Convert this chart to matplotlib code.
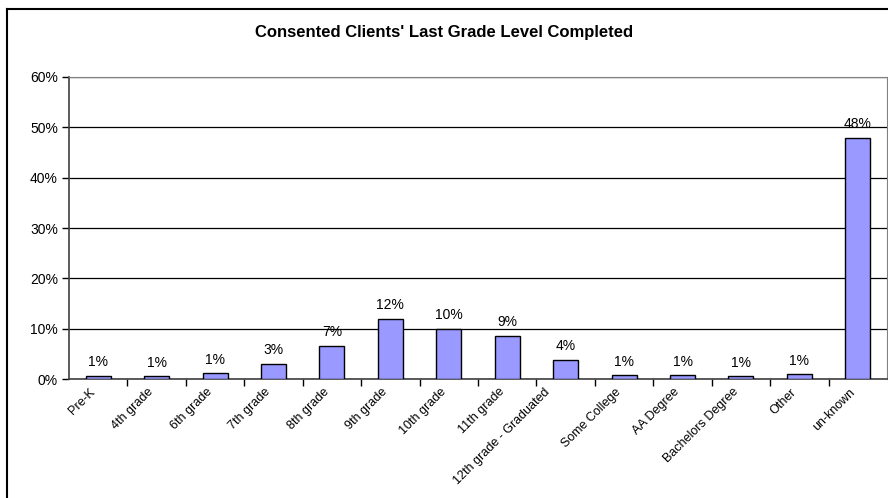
import numpy as np
import matplotlib.pyplot as plt
import matplotlib.transforms as mtransforms
from matplotlib.lines import Line2D
from matplotlib.ticker import FuncFormatter

plt.rcParams['font.family'] = ['Liberation Sans', 'DejaVu Sans']

# Last grade level completed, percent of consented clients
grades = ['Pre-K', '4th grade', '6th grade', '7th grade', '8th grade', '9th grade',
          '10th grade', '11th grade', '12th grade - Graduated', 'Some College',
          'AA Degree', 'Bachelors Degree', 'Other', 'un-known']
percent = [0.6, 0.5, 1.1, 2.9, 6.6, 12.0, 10.0, 8.6, 3.8, 0.7, 0.7, 0.5, 0.9, 47.9]

fig = plt.figure(figsize=(8.88, 4.98), dpi=100)
W, H = 888, 498
ax = fig.add_axes([69 / W, 1 - 379 / H, (887 - 69) / W, (379 - 77) / H])

x = np.arange(len(grades))
bars = ax.bar(x, percent, width=0.43, color='#9999FF', edgecolor='black',
              linewidth=1.0, zorder=3)

for xi, v in zip(x, percent):
    ax.annotate('%d%%' % int(v + 0.5), (xi, v), xytext=(0, 5),
                textcoords='offset points', ha='center', va='bottom',
                fontsize=10, color='black')

ax.set_xlim(-0.5, len(grades) - 0.5)
ax.set_ylim(0, 60)
ax.set_yticks(np.arange(0, 61, 10))
ax.yaxis.set_major_formatter(FuncFormatter(lambda v, p: '%d%%' % v))
ax.tick_params(axis='y', labelsize=10, length=5, width=1, pad=3, colors='black')
ax.yaxis.grid(True, color='black', linewidth=0.9, zorder=0)

# category labels at centres, tick marks at category boundaries
ax.set_xticks(x)
ax.set_xticklabels(grades, rotation=45, ha='right', rotation_mode='anchor',
                   fontsize=9)
ax.tick_params(axis='x', length=0, pad=5)
ax.set_xticks(np.arange(0.5, len(grades) - 0.5, 1), minor=True)
ax.tick_params(axis='x', which='minor', length=5, width=1, color='black')

# nudge the slanted labels left of the category centre
for i, lab in enumerate(ax.get_xticklabels()):
    dx = -22 if len(grades[i]) > 18 else -9
    lab.set_transform(lab.get_transform() +
                      mtransforms.ScaledTranslation(dx / 100, 0, fig.dpi_scale_trans))

for side in ['top', 'right']:
    ax.spines[side].set_color('#808080')
for side in ['left', 'bottom']:
    ax.spines[side].set_color('#404040')
    ax.spines[side].set_linewidth(1.2)

fig.text(0.5, 1 - 32 / H, "Consented Clients' Last Grade Level Completed",
         ha='center', va='center', fontsize=12, fontweight='bold')

# chart area border
fig.add_artist(Line2D([7 / W, 7 / W], [0, 1 - 9 / H], color='black', linewidth=1.5))
fig.add_artist(Line2D([7 / W, 1], [1 - 9 / H, 1 - 9 / H], color='black', linewidth=1.5))

fig.savefig('out.png', dpi=100)
